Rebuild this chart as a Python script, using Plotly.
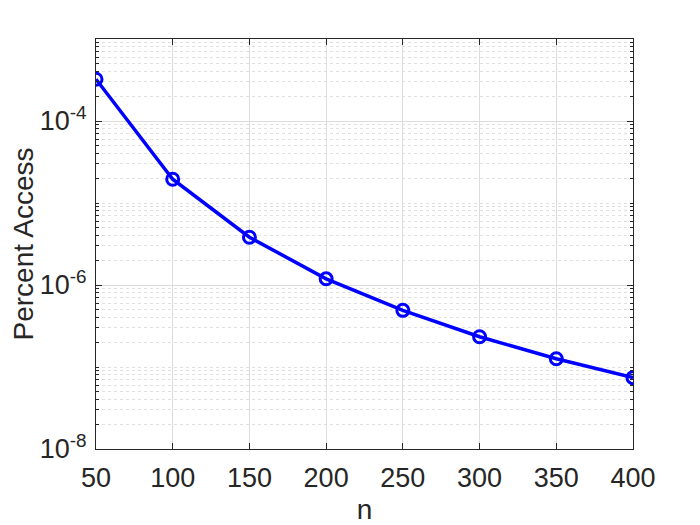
import plotly.graph_objects as go

# values
n_values = [50, 100, 150, 200, 250, 300, 350, 400]
percent_access = [3.23e-4, 1.95e-5, 3.82e-6, 1.19e-6, 4.91e-7, 2.34e-7, 1.26e-7, 7.41e-8]

y_tick_vals = [1e-8, 1e-6, 1e-4]
y_tick_text = ["10<sup>-8</sup>", "10<sup>-6</sup>", "10<sup>-4</sup>"]

AXIS = "#262626"
GRID = "#dcdcdc"
MINOR_GRID = "#e0e0e0"

fig = go.Figure(
    go.Scatter(
        x=n_values,
        y=percent_access,
        mode="lines+markers",
        line={"color": "#0000ff", "width": 3.5},
        marker={
            "symbol": "circle-open",
            "size": 12,
            "color": "#0000ff",
            "line": {"width": 3, "color": "#0000ff"},
        },
    )
)

# the page adds an 8px body margin, so the plot box is shifted accordingly
fig.update_layout(
    width=700,
    height=525,
    paper_bgcolor="white",
    plot_bgcolor="white",
    showlegend=False,
    margin={"l": 88, "r": 75, "t": 31, "b": 84},
    font={"family": "Liberation Sans, Arial, sans-serif", "color": AXIS, "size": 27},
)

fig.update_xaxes(
    range=[50, 400],
    tick0=50,
    dtick=50,
    ticks="inside",
    ticklen=6,
    tickcolor=AXIS,
    ticklabelstandoff=5,
    showline=True,
    linecolor=AXIS,
    linewidth=1,
    mirror="ticks",
    showgrid=True,
    gridcolor=GRID,
    zeroline=False,
    automargin=False,
    tickfont={"size": 27},
    title={"text": "n", "font": {"size": 28}, "standoff": 6},
)

fig.update_yaxes(
    type="log",
    range=[-8, -3],
    tickvals=y_tick_vals,
    ticktext=y_tick_text,
    ticks="inside",
    ticklen=6,
    tickcolor=AXIS,
    ticklabelstandoff=3,
    showline=True,
    linecolor=AXIS,
    linewidth=1,
    mirror="ticks",
    showgrid=True,
    gridcolor=GRID,
    zeroline=False,
    automargin=False,
    tickfont={"size": 27},
    title={"text": "Percent Access", "font": {"size": 28}, "standoff": 2},
    minor={
        "dtick": "D1",
        "ticks": "inside",
        "ticklen": 3,
        "tickcolor": AXIS,
        "showgrid": True,
        "gridcolor": MINOR_GRID,
        "griddash": "dot",
    },
)

fig.write_html("out.html")
